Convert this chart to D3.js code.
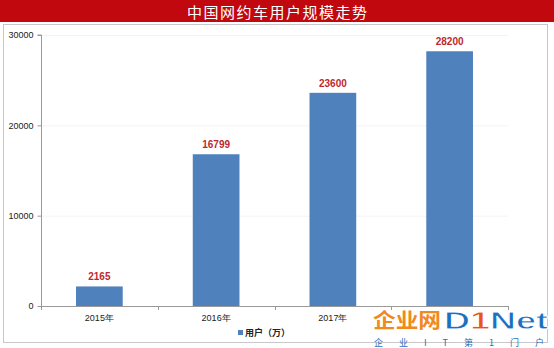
<!DOCTYPE html>
<html>
<head>
<meta charset="utf-8">
<script src="https://cdn.jsdelivr.net/npm/d3@7"></script>
<style>
  body { margin: 0; background: #fff; }
  svg { display: block; font-family: "Liberation Sans", Arial, sans-serif; }
</style>
</head>
<body>
<div id="chart"></div>
<script>
const title = '中国网约车用户规模走势';
const years = ['2015年', '2016年', '2017年', '2018年'];
const users = [2165, 16799, 23600, 28200];
const yTicks = [0, 10000, 20000, 30000];
const legendLabel = '用户（万）';

const W = 554, H = 348;
const svg = d3.select('#chart').append('svg')
    .attr('width', W)
    .attr('height', H);

// title bar
svg.append('rect')
    .attr('x', 0).attr('y', 0)
    .attr('width', W).attr('height', 22)
    .attr('fill', '#c1080f');
svg.append('text')
    .attr('x', W / 2).attr('y', 17.5)
    .attr('text-anchor', 'middle')
    .attr('fill', '#fff')
    .attr('textLength', 180)
    .attr('lengthAdjust', 'spacing')
    .style('font-family', '"Noto Sans CJK SC", sans-serif')
    .style('font-size', '15px')
    .text(title);

// chart frame
svg.append('rect')
    .attr('x', 3.5).attr('y', 24.5)
    .attr('width', 544).attr('height', 318)
    .attr('fill', '#fff')
    .attr('stroke', '#c8c8c8');

const x = d3.scaleBand().domain(years).range([41, 508]).paddingInner(0.6).paddingOuter(0.3);
const y = d3.scaleLinear().domain([0, 30000]).range([306, 35]);

// faint gridlines
svg.append('g')
    .selectAll('line')
    .data(yTicks.slice(1))
    .join('line')
    .attr('x1', 41).attr('x2', 508)
    .attr('y1', d => y(d) + 0.5).attr('y2', d => y(d) + 0.5)
    .attr('stroke', '#f3f3f3');

// y axis
const yAxis = svg.append('g')
    .attr('transform', 'translate(41.5,0)')
    .call(d3.axisLeft(y).tickValues(yTicks).tickSize(4).tickPadding(4).tickFormat(d3.format('d')));
yAxis.select('.domain').attr('stroke', '#999').attr('d', `M-4,${y(30000)}H0V${y(0)}`);
yAxis.selectAll('.tick line').attr('stroke', '#999');
yAxis.selectAll('.tick text').attr('fill', '#222').style('font-size', '9px');

// x axis with tick marks between categories
const xEdge = d3.scaleLinear().domain([0, years.length]).range([41, 508]);
svg.append('line')
    .attr('x1', 41).attr('x2', 508)
    .attr('y1', y(0) + 0.5).attr('y2', y(0) + 0.5)
    .attr('stroke', '#999');
svg.append('g')
    .selectAll('line')
    .data(d3.range(years.length + 1))
    .join('line')
    .attr('x1', d => Math.round(xEdge(d)) + 0.5).attr('x2', d => Math.round(xEdge(d)) + 0.5)
    .attr('y1', y(0)).attr('y2', y(0) + 4)
    .attr('stroke', '#999');
// the last category label sits under the watermark in the picture, so it is not drawn
svg.append('g')
    .selectAll('text')
    .data(years.slice(0, 3))
    .join('text')
    .attr('x', d => x(d) + x.bandwidth() / 2)
    .attr('y', 321)
    .attr('text-anchor', 'middle')
    .attr('fill', '#222')
    .style('font-size', '9px')
    .text(d => d);

// bars
svg.append('g')
    .selectAll('rect')
    .data(users)
    .join('rect')
    .attr('x', (d, i) => x(years[i]))
    .attr('y', d => y(d))
    .attr('width', x.bandwidth())
    .attr('height', d => y(0) - y(d))
    .attr('fill', '#4f81bd');

// value labels
svg.append('g')
    .selectAll('text')
    .data(users)
    .join('text')
    .attr('x', (d, i) => x(years[i]) + x.bandwidth() / 2)
    .attr('y', d => y(d) - 6)
    .attr('text-anchor', 'middle')
    .attr('fill', '#c0272d')
    .style('font-size', '10px')
    .style('font-weight', 'bold')
    .text(d => d);

// legend
svg.append('rect')
    .attr('x', 238).attr('y', 330)
    .attr('width', 5).attr('height', 5)
    .attr('fill', '#4f81bd');
svg.append('text')
    .attr('x', 245).attr('y', 336)
    .attr('fill', '#222')
    .style('font-family', '"Noto Sans CJK SC", sans-serif')
    .style('font-size', '9px')
    .style('font-weight', 'bold')
    .text(legendLabel);

// watermark
const wm = svg.append('g').style('font-family', '"Noto Sans CJK SC", sans-serif');
wm.append('text')
    .attr('x', 373).attr('y', 328)
    .attr('fill', '#f08a1c')
    .attr('textLength', 68)
    .attr('lengthAdjust', 'spacingAndGlyphs')
    .style('font-size', '20px')
    .style('font-weight', 'bold')
    .text('企业网');
const logo = wm.append('text')
    .attr('x', 444).attr('y', 329)
    .attr('textLength', 104)
    .attr('lengthAdjust', 'spacingAndGlyphs')
    .attr('stroke', '#fff')
    .attr('stroke-width', 0.8)
    .style('font-family', '"Liberation Sans", Arial, sans-serif')
    .style('font-size', '24px')
    .style('font-weight', 'bold');
logo.append('tspan').attr('fill', '#1f6fc0').text('D');
logo.append('tspan').attr('fill', '#e8541a').text('1');
logo.append('tspan').attr('fill', '#1f6fc0').text('Net');
wm.append('text')
    .attr('x', 374).attr('y', 346)
    .attr('fill', '#1f6fc0')
    .attr('textLength', 170)
    .attr('lengthAdjust', 'spacing')
    .style('font-size', '9px')
    .text('企业IT第1门户');
</script>
</body>
</html>
